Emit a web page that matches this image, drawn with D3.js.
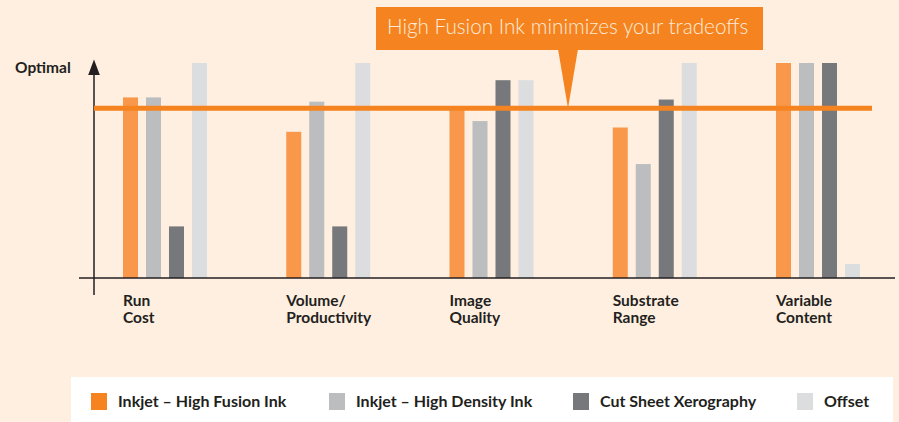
<!DOCTYPE html>
<html lang="en">
<head>
<meta charset="utf-8">
<title>High Fusion Ink tradeoffs</title>
<script src="https://d3js.org/d3.v7.min.js"></script>
<style>
  body { margin: 0; background: #feefe1; }
  svg { display: block; font-family: Lato, "Open Sans", sans-serif; }
</style>
</head>
<body>
<script>
  // chart data (0 = baseline, 100 = "Optimal")
  var categories = ["Run|Cost", "Volume/|Productivity", "Image|Quality", "Substrate|Range", "Variable|Content"];
  var seriesNames = ["Inkjet – High Fusion Ink", "Inkjet – High Density Ink", "Cut Sheet Xerography", "Offset"];
  var fusionInk  = [84, 68, 79, 70, 100];
  var densityInk = [84, 82, 73, 53, 100];
  var xerography = [24, 24, 92, 83, 100];
  var offset     = [100, 100, 92, 100, 6.5];
  var targetLevel = 79;
  var calloutText = "High Fusion Ink minimizes your tradeoffs";

  var barColors  = ["#f9984a", "#bcbdbe", "#77787b", "#dcdddf"];
  var swatchColors = ["#f58420", "#bcbdbe", "#77787b", "#dcdddf"];
  var legendX = [91, 329, 573, 797];

  var width = 899, height = 422;

  var svg = d3.select("body").append("svg")
      .attr("width", width)
      .attr("height", height);

  svg.append("rect").attr("width", width).attr("height", height).attr("fill", "#feefe1");

  var x = d3.scaleBand()
      .domain(categories)
      .range([123, 860])
      .paddingInner(0.4855);

  var xInner = d3.scaleBand()
      .domain(d3.range(seriesNames.length))
      .range([0, x.bandwidth()])
      .paddingInner(8 / 23);

  var y = d3.scaleLinear()
      .domain([0, 100])
      .range([278, 63]);

  var values = [fusionInk, densityInk, xerography, offset];

  // bars
  var groups = svg.append("g").selectAll("g")
      .data(categories)
      .enter().append("g")
      .attr("transform", function(d) { return "translate(" + x(d) + ",0)"; });

  groups.selectAll("rect")
      .data(function(d, i) { return values.map(function(s, k) { return { k: k, v: s[i] }; }); })
      .enter().append("rect")
      .attr("x", function(d) { return xInner(d.k); })
      .attr("width", xInner.bandwidth())
      .attr("y", function(d) { return y(d.v); })
      .attr("height", function(d) { return y(0) - y(d.v); })
      .attr("fill", function(d) { return barColors[d.k]; });

  // category labels, two lines each
  groups.append("text")
      .attr("y", 306)
      .attr("font-size", 15.5)
      .attr("font-weight", 700)
      .attr("fill", "#231f20")
      .selectAll("tspan")
      .data(function(d) { return d.split("|"); })
      .enter().append("tspan")
      .attr("x", 0)
      .attr("dy", function(d, i) { return i ? 17 : 0; })
      .text(function(d) { return d; });

  // axes
  svg.append("line")
      .attr("x1", 79).attr("x2", 895)
      .attr("y1", y(0)).attr("y2", y(0))
      .attr("stroke", "#231f20").attr("stroke-width", 1.5);

  svg.append("line")
      .attr("x1", 94).attr("x2", 94)
      .attr("y1", 72).attr("y2", 295)
      .attr("stroke", "#231f20").attr("stroke-width", 1.5);

  svg.append("path")
      .attr("d", "M94,59.5 L99.8,75 L88.2,75 Z")
      .attr("fill", "#231f20");

  svg.append("text")
      .attr("x", 15).attr("y", 73)
      .attr("font-size", 15.5)
      .attr("font-weight", 700)
      .attr("fill", "#231f20")
      .text("Optimal");

  // target line
  svg.append("line")
      .attr("x1", 94).attr("x2", 872)
      .attr("y1", y(targetLevel)).attr("y2", y(targetLevel))
      .attr("stroke", "#f58420").attr("stroke-width", 5);

  // callout
  svg.append("rect")
      .attr("x", 376).attr("y", 7)
      .attr("width", 387).attr("height", 43)
      .attr("fill", "#f58420");

  svg.append("path")
      .attr("d", "M558,49 L578,49 L568," + y(targetLevel) + " Z")
      .attr("fill", "#f58420");

  svg.append("text")
      .attr("x", 387).attr("y", 34)
      .attr("font-size", 20.7)
      .attr("font-weight", 300)
      .attr("fill", "#fdebd9")
      .text(calloutText);

  // legend
  svg.append("rect")
      .attr("x", 71).attr("y", 377)
      .attr("width", 822).attr("height", 45)
      .attr("fill", "#ffffff");

  var legend = svg.append("g").selectAll("g")
      .data(seriesNames)
      .enter().append("g")
      .attr("transform", function(d, k) { return "translate(" + legendX[k] + ",0)"; });

  legend.append("rect")
      .attr("y", 393)
      .attr("width", 16).attr("height", 17)
      .attr("fill", function(d, k) { return swatchColors[k]; });

  legend.append("text")
      .attr("x", 27).attr("y", 407)
      .attr("font-size", 16)
      .attr("font-weight", 700)
      .attr("fill", "#231f20")
      .text(function(d) { return d; });
</script>
</body>
</html>
